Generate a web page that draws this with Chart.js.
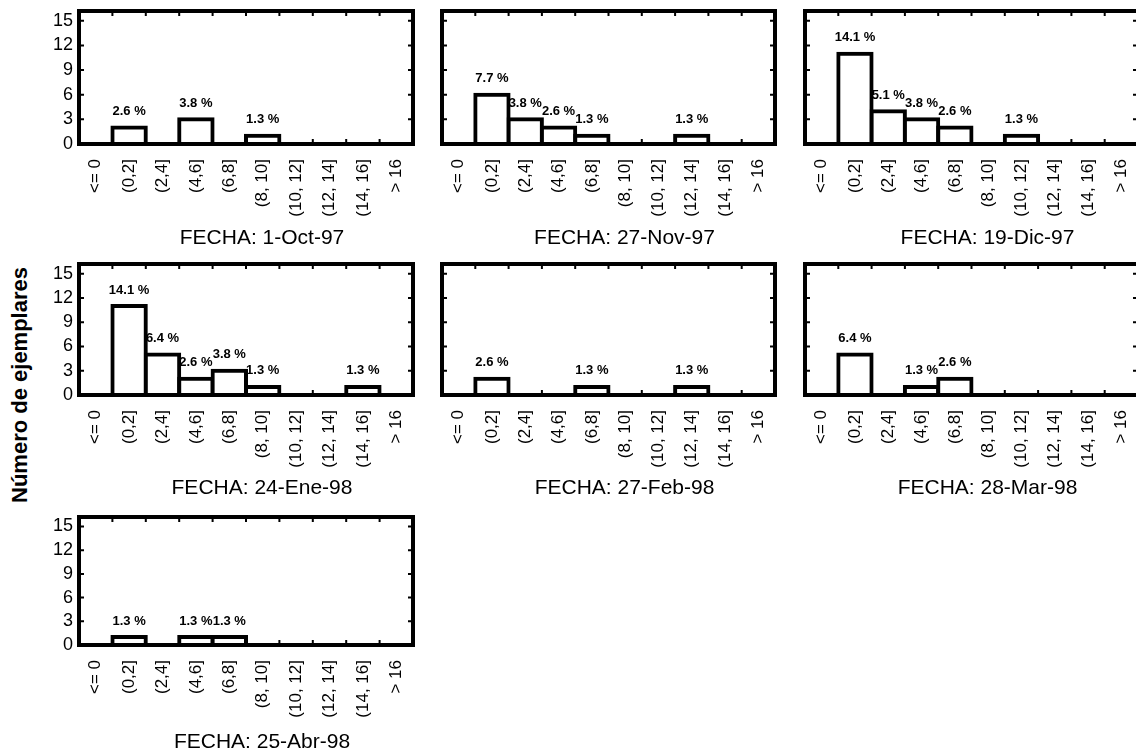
<!DOCTYPE html>
<html>
<head>
<meta charset="utf-8">
<script src="https://cdn.jsdelivr.net/npm/chart.js@4/dist/chart.umd.min.js"></script>
<style>
  html, body { margin: 0; padding: 0; background: #fff; width: 1136px; height: 752px; overflow: hidden; position: relative; }
  canvas { position: absolute; }
  #ylab {
    position: absolute; left: 20px; top: 385px;
    font: bold 22px "Liberation Sans", Arial, sans-serif; color: #000; white-space: nowrap;
    transform: translate(-50%, -50%) rotate(-90deg);
  }
</style>
</head>
<body>
<div id="ylab">Número de ejemplares</div>
<script>
// Length classes (histogram bins) and y-axis ticks
const categories = ['<= 0', '(0,2]', '(2,4]', '(4,6]', '(6,8]', '(8, 10]', '(10, 12]', '(12, 14]', '(14, 16]', '> 16'];
const yTickValues = [0, 3, 6, 9, 12, 15];

// Sampling dates
const fechas = ['1-Oct-97', '27-Nov-97', '19-Dic-97', '24-Ene-98', '27-Feb-98', '28-Mar-98', '25-Abr-98'];

// Number of specimens per class, one array per sampling date
const oct97 = [0, 2, 0, 3, 0, 1, 0, 0, 0, 0];
const nov97 = [0, 6, 3, 2, 1, 0, 0, 1, 0, 0];
const dic97 = [0, 11, 4, 3, 2, 0, 1, 0, 0, 0];
const ene98 = [0, 11, 5, 2, 3, 1, 0, 0, 1, 0];
const feb98 = [0, 2, 0, 0, 1, 0, 0, 1, 0, 0];
const mar98 = [0, 5, 0, 1, 2, 0, 0, 0, 0, 0];
const abr98 = [0, 1, 0, 1, 1, 0, 0, 0, 0, 0];

const series = [oct97, nov97, dic97, ene98, feb98, mar98, abr98];
// percentages are relative to all specimens of the whole study
const TOTAL = series.flat().reduce((a, b) => a + b, 0);

// Panel grid: plot-area edges per column and per row (top, zero line, title centre)
const colX = [[79, 413], [442, 775], [805, 1138]];
const rowY = [[11, 144, 238], [264, 395, 488], [517, 645, 742]];
const Y_AXIS_W = 60, PAD_T = 8, PAD_R = 8;
const TITLE_DX = 16, TITLE_SIZE = 21;
const FONT = '"Liberation Sans", Arial, sans-serif';

// Frame with inward ticks, percentage labels above the bars and the date caption
const framePlugin = {
  id: 'frame',
  afterDatasetsDraw(chart, args, opts) {
    const { ctx, chartArea: a, scales: { x, y } } = chart;
    ctx.save();
    ctx.strokeStyle = '#000';
    ctx.lineWidth = 2;
    ctx.beginPath();
    const n = chart.data.labels.length;
    for (let i = 1; i < n; i++) {
      const px = (x.getPixelForValue(i - 1) + x.getPixelForValue(i)) / 2;
      ctx.moveTo(px, a.top); ctx.lineTo(px, a.top + 5);
      ctx.moveTo(px, a.bottom); ctx.lineTo(px, a.bottom - 5);
    }
    y.ticks.forEach(t => {
      if (t.value <= 0) return;
      const py = y.getPixelForValue(t.value);
      ctx.moveTo(a.left, py); ctx.lineTo(a.left + 5, py);
      ctx.moveTo(a.right, py); ctx.lineTo(a.right - 5, py);
    });
    ctx.stroke();
    ctx.lineWidth = 4;
    ctx.strokeRect(a.left, a.top, a.right - a.left, a.bottom - a.top);

    const ds = chart.data.datasets[0];
    ctx.fillStyle = '#000';
    ctx.font = 'bold 13px "Liberation Sans Narrow", "Liberation Sans", Arial, sans-serif';
    ctx.textAlign = 'center';
    ctx.textBaseline = 'middle';
    chart.getDatasetMeta(0).data.forEach((bar, i) => {
      const v = ds.data[i];
      if (!v) return;
      ctx.fillText((v / TOTAL * 100).toFixed(1) + ' %', bar.x, bar.y - 16);
    });

    ctx.font = TITLE_SIZE + 'px ' + FONT;
    ctx.fillText(opts.title, (a.left + a.right) / 2 + TITLE_DX, a.bottom + opts.titleOffset);
    ctx.restore();
  }
};

series.forEach((data, p) => {
  const col = p % 3;
  const [left, right] = colX[col];
  const [top, zero, titleY] = rowY[Math.floor(p / 3)];
  const plotW = right - left, plotH = zero - top;
  const xAxisH = titleY + 14 - zero;

  const canvas = document.createElement('canvas');
  canvas.width = Y_AXIS_W + plotW + PAD_R;
  canvas.height = PAD_T + plotH + xAxisH;
  canvas.style.left = (left - Y_AXIS_W) + 'px';
  canvas.style.top = (top - PAD_T) + 'px';
  document.body.appendChild(canvas);

  new Chart(canvas, {
    type: 'bar',
    data: {
      labels: categories,
      datasets: [{
        data: data,
        backgroundColor: '#fff',
        borderColor: '#000',
        borderWidth: 4,
        inflateAmount: 2,
        borderSkipped: false,
        barPercentage: 1,
        categoryPercentage: 1
      }]
    },
    options: {
      responsive: false,
      animation: false,
      devicePixelRatio: 1,
      layout: { padding: { top: PAD_T, right: PAD_R, left: 0, bottom: 0 } },
      plugins: {
        legend: { display: false },
        tooltip: { enabled: false },
        frame: { title: 'FECHA: ' + fechas[p], titleOffset: titleY - zero }
      },
      scales: {
        x: {
          type: 'category',
          offset: true,
          grid: { display: false, drawTicks: false },
          border: { display: false },
          ticks: {
            autoSkip: false, minRotation: 90, maxRotation: 90, padding: 15,
            color: '#000', font: { family: FONT, size: 17 }
          },
          afterFit(s) { s.height = xAxisH; s.paddingLeft = 0; s.paddingRight = 0; }
        },
        y: {
          min: 0, max: 16.2,
          grid: { display: false, drawTicks: false },
          border: { display: false },
          afterBuildTicks(s) { s.ticks = yTickValues.map(v => ({ value: v })); },
          // only the left column carries tick numbers
          ticks: { display: col === 0, padding: 6, color: '#000', font: { family: FONT, size: 18 } },
          afterFit(s) { s.width = Y_AXIS_W; s.paddingTop = 0; s.paddingBottom = 0; }
        }
      }
    },
    plugins: [framePlugin]
  });
});
</script>
</body>
</html>
